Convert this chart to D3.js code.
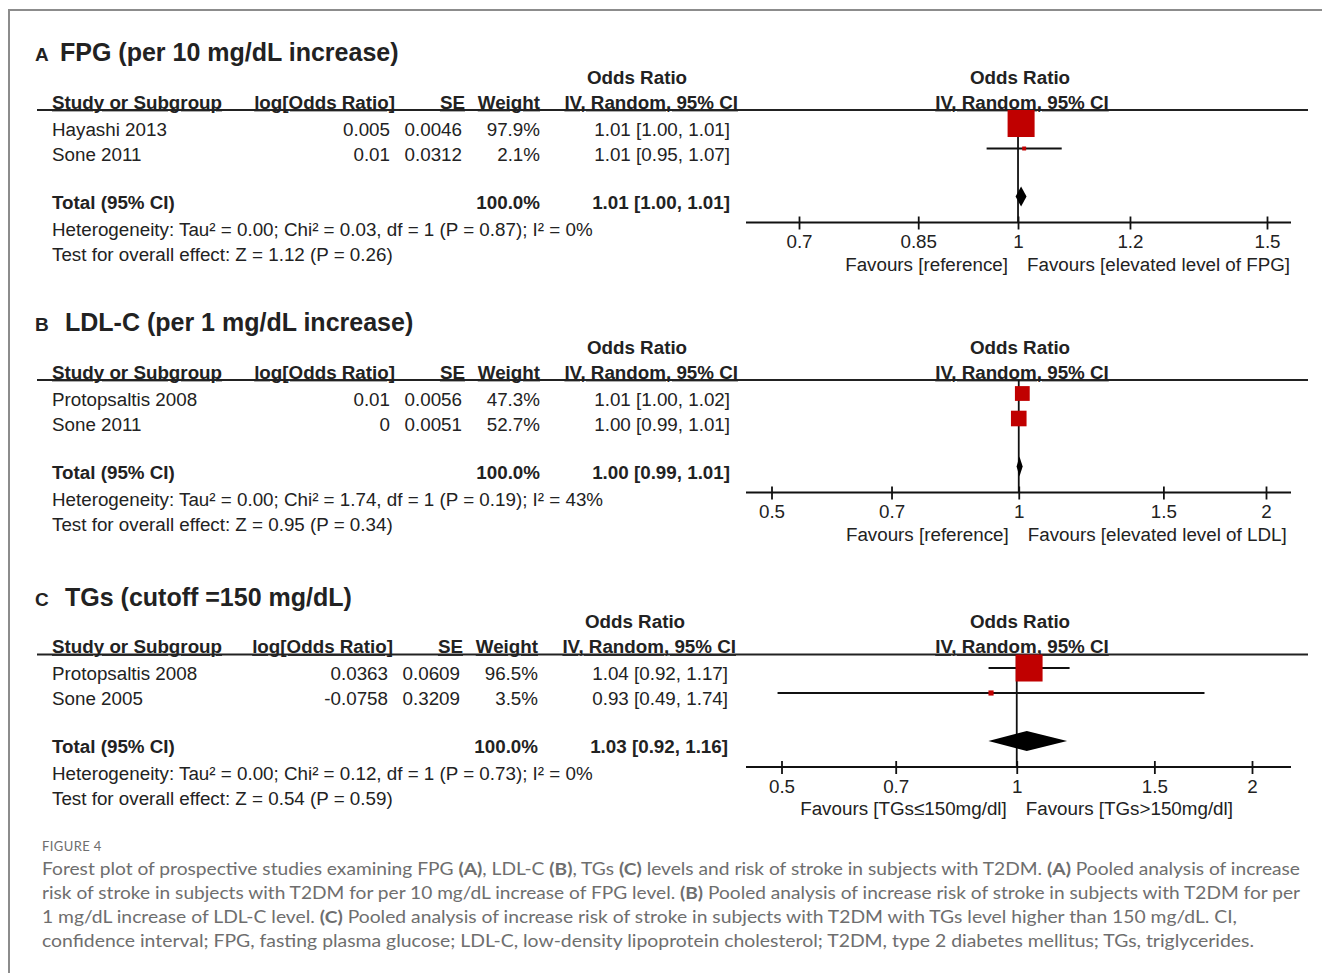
<!DOCTYPE html>
<html><head><meta charset="utf-8">
<script src="https://cdn.jsdelivr.net/npm/d3@7"></script>
<style>
body{margin:0;background:#fff}
svg{display:block}
.t{font-family:"Liberation Sans",Arial,Helvetica,sans-serif;fill:#222}
.cap{font-family:Lato,"Open Sans",sans-serif;fill:#6e6e6e}
</style>
</head><body>
<svg id="chart" width="1322" height="973"></svg>
<script>
// ---------------- DATA ----------------
const panelLetters = ["A", "B", "C"];
const panelTitles = ["FPG (per 10 mg/dL increase)", "LDL-C (per 1 mg/dL increase)", "TGs (cutoff =150 mg/dL)"];

const studiesA = ["Hayashi 2013", "Sone 2011"];
const logOddsA = [0.005, 0.01];
const seA = [0.0046, 0.0312];
const weightA = [97.9, 2.1];
const ciTextA = ["1.01 [1.00, 1.01]", "1.01 [0.95, 1.07]"];

const studiesB = ["Protopsaltis 2008", "Sone 2011"];
const logOddsB = [0.01, 0];
const seB = [0.0056, 0.0051];
const weightB = [47.3, 52.7];
const ciTextB = ["1.01 [1.00, 1.02]", "1.00 [0.99, 1.01]"];

const studiesC = ["Protopsaltis 2008", "Sone 2005"];
const logOddsC = [0.0363, -0.0758];
const seC = [0.0609, 0.3209];
const weightC = [96.5, 3.5];
const ciTextC = ["1.04 [0.92, 1.17]", "0.93 [0.49, 1.74]"];

const totalOR = [1.005, 1.002, 1.03];
const totalLow = [0.996, 0.994, 0.92];
const totalHigh = [1.014, 1.011, 1.16];
const totalText = ["1.01 [1.00, 1.01]", "1.00 [0.99, 1.01]", "1.03 [0.92, 1.16]"];
const totalWeightText = ["100.0%", "100.0%", "100.0%"];

const heterogeneityText = [
  "Heterogeneity: Tau² = 0.00; Chi² = 0.03, df = 1 (P = 0.87); I² = 0%",
  "Heterogeneity: Tau² = 0.00; Chi² = 1.74, df = 1 (P = 0.19); I² = 43%",
  "Heterogeneity: Tau² = 0.00; Chi² = 0.12, df = 1 (P = 0.73); I² = 0%"
];
const overallText = [
  "Test for overall effect: Z = 1.12 (P = 0.26)",
  "Test for overall effect: Z = 0.95 (P = 0.34)",
  "Test for overall effect: Z = 0.54 (P = 0.59)"
];

const ticksA = [0.7, 0.85, 1, 1.2, 1.5];
const ticksB = [0.5, 0.7, 1, 1.5, 2];
const ticksC = [0.5, 0.7, 1, 1.5, 2];

const favoursLeft = ["Favours [reference]", "Favours [reference]", "Favours [TGs≤150mg/dl]"];
const favoursRight = ["Favours [elevated level of FPG]", "Favours [elevated level of LDL]", "Favours [TGs>150mg/dl]"];

const columnHeaders = ["Study or Subgroup", "log[Odds Ratio]", "SE", "Weight", "IV, Random, 95% CI"];
const effectHeader = "Odds Ratio";
const totalLabel = "Total (95% CI)";

const figureLabel = "FIGURE 4";
const captionLines = [
  [["Forest plot of prospective studies examining FPG ", 0], ["(A)", 1], [", LDL-C ", 0], ["(B)", 1], [", TGs ", 0], ["(C)", 1], [" levels and risk of stroke in subjects with T2DM. ", 0], ["(A)", 1], [" Pooled analysis of increase", 0]],
  [["risk of stroke in subjects with T2DM for per 10 mg/dL increase of FPG level. ", 0], ["(B)", 1], [" Pooled analysis of increase risk of stroke in subjects with T2DM for per", 0]],
  [["1 mg/dL increase of LDL-C level. ", 0], ["(C)", 1], [" Pooled analysis of increase risk of stroke in subjects with T2DM with TGs level higher than 150 mg/dL. CI,", 0]],
  [["confidence interval; FPG, fasting plasma glucose; LDL-C, low-density lipoprotein cholesterol; T2DM, type 2 diabetes mellitus; TGs, triglycerides.", 0]]
];

// ---------------- LAYOUT ----------------
const W = 1322, H = 973;
const panelOffset = [0, 270, 544.5];
const titleX = [60, 65, 65];
const colShift = [0, 0, -2];
const plotRange = [[799, 1267], [771.5, 1266], [781.5, 1252]];
const maxSquare = [27.3, 21.5, 27.5];
const captionWidths = [1258, 1258, 1195, 1212];

const svg = d3.select("#chart");
svg.append("rect").attr("width", W).attr("height", H).attr("fill", "#fff");
svg.append("path").attr("d", "M8,10H1322M9,10V973").attr("fill", "none")
  .attr("stroke", "#8c8c8c").attr("stroke-width", 2);

const panels = [
  {studies: studiesA, lor: logOddsA, se: seA, w: weightA, ci: ciTextA, ticks: ticksA},
  {studies: studiesB, lor: logOddsB, se: seB, w: weightB, ci: ciTextB, ticks: ticksB},
  {studies: studiesC, lor: logOddsC, se: seC, w: weightC, ci: ciTextC, ticks: ticksC}
];

const FS = 18.8;
const fmtW = d3.format(".1f");

panels.forEach((p, i) => {
  const g = svg.append("g").attr("transform", `translate(0,${panelOffset[i]})`);
  const dx = colShift[i];
  const txt = (x, y, s, opts = {}) => {
    const t = g.append("text").attr("class", "t").attr("x", x).attr("y", y)
      .attr("font-size", opts.size || FS).text(s);
    if (opts.anchor) t.attr("text-anchor", opts.anchor);
    if (opts.bold) t.attr("font-weight", "bold");
    if (opts.underline) t.style("text-decoration", "underline");
    return t;
  };

  // titles
  txt(35, 61, panelLetters[i], {size: 19, bold: true});
  txt(titleX[i], 61, panelTitles[i], {size: 25, bold: true});

  // header
  txt(637 + dx, 83.5, effectHeader, {bold: true, anchor: "middle"});
  txt(1020, 83.5, effectHeader, {bold: true, anchor: "middle"});
  txt(52, 108.5, columnHeaders[0], {bold: true, underline: true});
  txt(395 + dx, 108.5, columnHeaders[1], {bold: true, underline: true, anchor: "end"});
  txt(465 + dx, 108.5, columnHeaders[2], {bold: true, underline: true, anchor: "end"});
  txt(540 + dx, 108.5, columnHeaders[3], {bold: true, underline: true, anchor: "end"});
  txt(738 + dx, 108.5, columnHeaders[4], {bold: true, underline: true, anchor: "end"});
  txt(1022, 108.5, columnHeaders[4], {bold: true, underline: true, anchor: "middle"});

  g.append("line").attr("x1", 37).attr("x2", 1308).attr("y1", 110).attr("y2", 110)
    .attr("stroke", "#222").attr("stroke-width", 2);

  // rows
  const rowBase = [135.5, 160.5];
  p.studies.forEach((s, j) => {
    const y = rowBase[j];
    txt(52, y, s);
    txt(390 + dx, y, String(p.lor[j]), {anchor: "end"});
    txt(462 + dx, y, String(p.se[j]), {anchor: "end"});
    txt(540 + dx, y, fmtW(p.w[j]) + "%", {anchor: "end"});
    txt(730 + dx, y, p.ci[j], {anchor: "end"});
  });
  txt(52, 208.5, totalLabel, {bold: true});
  txt(540 + dx, 208.5, totalWeightText[i], {bold: true, anchor: "end"});
  txt(730 + dx, 208.5, totalText[i], {bold: true, anchor: "end"});
  txt(52, 235.5, heterogeneityText[i]);
  txt(52, 260.5, overallText[i]);

  // forest plot
  const x = d3.scaleLog().domain([p.ticks[0], p.ticks[p.ticks.length - 1]]).range(plotRange[i]);
  const side = d3.scaleSqrt().domain([0, 100]).range([0, maxSquare[i]]);
  const axisY = 222.5;

  // null line
  g.append("line").attr("x1", x(1)).attr("x2", x(1)).attr("y1", 110).attr("y2", axisY)
    .attr("stroke", "#111").attr("stroke-width", 1.8);

  // axis
  g.append("line").attr("x1", 746).attr("x2", 1291).attr("y1", axisY).attr("y2", axisY)
    .attr("stroke", "#111").attr("stroke-width", 1.8);
  const ax = g.append("g").attr("transform", `translate(0,${axisY})`)
    .call(d3.axisBottom(x).tickValues(p.ticks).tickFormat(d => String(d)).tickSizeOuter(0));
  ax.select(".domain").remove();
  ax.selectAll(".tick line").attr("y1", -6).attr("y2", 7).attr("stroke", "#111").attr("stroke-width", 1.8);
  ax.selectAll(".tick text").attr("class", "t").attr("y", 0).attr("dy", 0)
    .attr("transform", "translate(0,25.5)")
    .attr("font-size", FS).attr("font-family", null).attr("fill", "#222");

  // study CIs and squares
  const markY = [123.5, 148.5];
  p.studies.forEach((s, j) => {
    const lo = Math.exp(p.lor[j] - 1.96 * p.se[j]);
    const hi = Math.exp(p.lor[j] + 1.96 * p.se[j]);
    const est = Math.exp(p.lor[j]);
    const y = markY[j];
    g.append("line").attr("x1", x(lo)).attr("x2", x(hi)).attr("y1", y).attr("y2", y)
      .attr("stroke", "#111").attr("stroke-width", 1.8);
    const sz = side(p.w[j]);
    g.append("rect").attr("x", x(est) - sz / 2).attr("y", y - sz / 2)
      .attr("width", sz).attr("height", sz).attr("fill", "#c00000");
  });

  // diamond
  const dy = 196.5, hh = 10;
  g.append("path")
    .attr("d", `M${x(totalLow[i])},${dy}L${x(totalOR[i])},${dy - hh}L${x(totalHigh[i])},${dy}L${x(totalOR[i])},${dy + hh}Z`)
    .attr("fill", "#000");

  // favours
  txt(x(1) - 10, 270.5, favoursLeft[i], {anchor: "end"});
  txt(x(1) + 9, 270.5, favoursRight[i]);
});

// caption
svg.append("text").attr("class", "cap").attr("x", 42).attr("y", 851)
  .attr("font-size", 13).attr("letter-spacing", 0.4).attr("fill", "#777").text(figureLabel);

captionLines.forEach((segs, k) => {
  const t = svg.append("text").attr("class", "cap").attr("x", 42).attr("y", 875 + 24 * k)
    .attr("font-size", 17).attr("textLength", captionWidths[k]).attr("lengthAdjust", "spacingAndGlyphs");
  segs.forEach(([s, b]) => {
    const ts = t.append("tspan").text(s);
    if (b) ts.attr("font-weight", "bold");
  });
});
</script>
</body></html>
